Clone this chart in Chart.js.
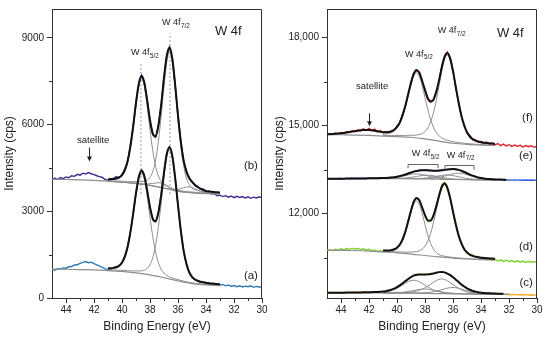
<!DOCTYPE html>
<html><head><meta charset="utf-8">
<script src="https://cdn.jsdelivr.net/npm/chart.js@4.4.0/dist/chart.umd.min.js"></script>
<style>
html,body{margin:0;padding:0;background:#fff;}
#wrap{position:relative;width:550px;height:339px;overflow:hidden;}
canvas{position:absolute;top:0;}
#left{left:0;} #right{left:275px;}
</style></head><body>
<div id="wrap"><canvas id="left" width="275" height="339"></canvas><canvas id="right" width="275" height="339"></canvas></div>
<script>
const N = null;
// ---------- shared axes ----------
const energy = [45.0,44.8,44.6,44.4,44.2,44.0,43.8,43.6,43.4,43.2,43.0,42.8,42.6,42.4,42.2,42.0,41.8,41.6,41.4,41.2,
41.0,40.8,40.6,40.4,40.2,40.0,39.8,39.6,39.4,39.2,39.0,38.8,38.6,38.4,38.2,38.0,37.8,37.6,37.4,37.2,
37.0,36.8,36.6,36.4,36.2,36.0,35.8,35.6,35.4,35.2,35.0,34.8,34.6,34.4,34.2,34.0,33.8,33.6,33.4,33.2,
33.0,32.8,32.6,32.4,32.2,32.0,31.8,31.6,31.4,31.2,31.0,30.8,30.6,30.4,30.2,30.0];
const compEnergy = [41.0,40.8,40.6,40.4,40.2,40.0,39.8,39.6,39.4,39.2,39.0,38.8,38.6,38.4,38.2,38.0,37.8,37.6,37.4,37.2,
37.0,36.8,36.6,36.4,36.2,36.0,35.8,35.6,35.4,35.2,35.0,34.8,34.6,34.4,34.2,34.0,33.8,33.6,33.4,33.2,33.0];
const bgEnergy = [45,44,43,42,41,40,39,38,37,36,35,34,33,32];
const xTicks = [44,42,40,38,36,34,32,30];
const xMinor = [43,41,39,37,35,33,31];
const yTicksLeft = [0,3000,6000,9000];
const yMinorLeft = [1500,4500,7500];
const yTicksRight = [12000,15000,18000];
const yMinorRight = [10500,13500,16500];

// ---------- left panel: (a) ----------
const expA = [990,960,1010,1000,1040,1030,1080,1090,1140,1150,1200,1230,1260,1220,1240,1190,1150,1100,1060,1010,
990,1000,1060,1080,1130,1210,1450,1790,2300,2900,3650,4200,4430,4190,3700,3120,2720,2650,2960,3590,
4330,5010,5200,4880,4160,3200,2360,1630,1200,880,750,620,610,540,560,500,530,470,500,460,
440,470,420,450,400,430,390,420,380,410,390,420,370,400,380,390];
const fitA = [N,N,N,N,N,N,N,N,N,N,N,N,N,N,N,N,N,N,N,N,
1024,1031,1042,1068,1118,1227,1430,1768,2279,2931,3626,4184,4412,4215,3711,3142,2740,2647,2953,3568,
4340,4989,5222,4900,4144,3212,2341,1650,1184,894,731,648,598,565,543,525,512,501,492,484,475,
N,N,N,N,N,N,N,N,N,N,N,N,N,N,N];
const bgA = [1000,995,985,970,950,920,870,800,700,590,500,450,430,N];
const compA1 = [1002,1004,1015,1037,1087,1191,1390,1723,2230,2873,3559,4108,4313,4080,3504,2792,2120,1583,1220,991,
860,782,732,693,664,635,608,586,564,544,524,513,499,489,476,467,463,456,452,448,444];
const compA2 = [972,972,966,964,958,956,951,946,940,939,937,933,942,964,1022,1150,1401,1825,2474,3297,
4180,4885,5146,4841,4092,3167,2303,1615,1153,866,707,624,577,544,526,508,495,487,478,470,461];

// ---------- left panel: (b) ----------
const expB = [4090,4150,4100,4170,4130,4190,4160,4230,4210,4280,4250,4320,4290,4340,4300,4270,4230,4200,4170,4100,
4080,4060,4140,4200,4160,4270,4460,4720,5290,5930,6780,7400,7700,7420,6850,6120,5660,5560,5990,6670,
7640,8370,8680,8240,7380,6290,5440,4740,4400,4130,4040,3890,3870,3760,3770,3680,3640,3600,3610,3540,
3560,3510,3540,3490,3530,3470,3520,3480,3510,3460,3500,3450,3490,3460,3500,3470];
const fitB = [N,N,N,N,N,N,N,N,N,N,N,N,N,N,N,N,N,N,N,N,
4110,4116,4120,4140,4177,4254,4422,4732,5248,5950,6749,7412,7687,7439,6828,6152,5682,5596,5956,6695,
7615,8391,8668,8262,7362,6313,5411,4763,4373,4153,4019,3922,3841,3783,3737,3705,3690,3673,3665,3657,3654,
N,N,N,N,N,N,N,N,N,N,N,N,N,N,N];
const bgB = [4110,4100,4090,4070,4040,4005,3965,3900,3800,3690,3640,3615,3605,N];
const compB1 = [4087,4088,4092,4107,4140,4217,4380,4690,5196,5893,6681,7333,7590,7306,6629,5820,5096,4562,4223,4032,
3928,3866,3822,3789,3759,3730,3715,3696,3685,3674,3666,3657,3648,3643,3635,3630,3628,3626,3620,3618,3616];
const compB2 = [4059,4057,4050,4048,4045,4038,4035,4027,4029,4025,4027,4024,4026,4040,4079,4176,4380,4773,5422,6319,
7334,8177,8506,8133,7246,6189,5260,4579,4155,3924,3806,3749,3716,3696,3682,3667,3661,3649,3647,3640,3638];
const compB3 = [4042,4035,4028,4021,4014,4007,3999,3991,3983,3976,3969,3959,3949,3943,3944,3953,3965,3980,3988,3980,
3948,3897,3840,3787,3743,3707,3687,3673,3660,3651,3642,3637,3632,3627,3622,3617,3615,3613,3611,3609,3607];
const compB4 = [4042,4035,4028,4021,4014,4007,3999,3991,3983,3975,3967,3955,3942,3928,3915,3903,3884,3864,3843,3824,
3805,3785,3768,3755,3750,3757,3783,3816,3841,3848,3825,3784,3735,3692,3658,3636,3625,3618,3614,3611,3608];
const dashE = [38.65, 36.57];
const dashTop = [8150, 9170];
const dashBottom = [3600, 3600];

// ---------- right panel: (f) ----------
const expF = [14690,14730,14700,14750,14720,14770,14740,14800,14770,14830,14800,14860,14820,14890,14840,14910,14830,14880,14790,14830,
14760,14800,14760,14830,14840,14990,15090,15400,15660,16110,16440,16800,16870,16830,16490,16240,15900,15850,15860,16180,
16510,17040,17330,17510,17270,16890,16290,15820,15310,15040,14740,14670,14520,14530,14430,14470,14390,14440,14370,14410,
14340,14390,14320,14370,14310,14350,14290,14340,14300,14330,14270,14320,14280,14310,14260,14300];
const fitF = [14705,14710,14716,14723,14731,14740,14752,14765,14780,14796,14812,14828,14842,14852,14856,14853,14843,14828,14810,14793,
14778,14772,14780,14805,14858,14956,15114,15358,15684,16072,16468,16776,16901,16799,16525,16203,15935,15816,15883,16137,
16539,16991,17357,17481,17296,16859,16319,15789,15342,15004,14773,14630,14543,14492,14458,14436,14420,14409,14397,14389,14378,
N,N,N,N,N,N,N,N,N,N,N,N,N,N,N];
const bgF = [14700,14690,14680,14665,14645,14625,14605,14550,14470,14400,14360,14338,14325,N];
const compF1 = [14705,14714,14730,14760,14815,14911,15072,15310,15630,16012,16399,16696,16803,16674,16355,15953,15551,15211,14953,14772,
14656,14583,14535,14501,14474,14451,14436,14424,14412,14399,14389,14380,14373,14367,14360,14356,14351,14349,14343,14341,14336];
const compF2 = [14669,14665,14664,14663,14662,14664,14663,14665,14667,14669,14674,14674,14681,14697,14731,14800,14918,15123,15432,15851,
16353,16864,17264,17408,17236,16808,16275,15749,15306,14973,14744,14606,14521,14472,14440,14418,14404,14393,14384,14376,14367];

// ---------- right panel: (e) ----------
const expE = [13185,13195,13180,13192,13188,13198,13186,13200,13190,13203,13193,13205,13195,13208,13198,13210,13202,13212,13205,13214,
13212,13220,13218,13235,13238,13262,13275,13308,13328,13372,13396,13437,13452,13478,13476,13486,13472,13474,13459,13466,
13462,13481,13488,13510,13512,13522,13506,13495,13456,13424,13373,13336,13290,13264,13228,13215,13190,13187,13172,13174,
13162,13160,13152,13156,13146,13151,13143,13148,13140,13146,13138,13145,13139,13144,13137,13142];
const fitE = [13186,13187,13188,13189,13190,13191,13192,13193,13194,13195,13196,13197,13198,13199,13201,13203,13205,13207,13209,13211,
13214,13217,13222,13231,13241,13257,13279,13303,13332,13367,13400,13432,13456,13473,13480,13481,13476,13469,13463,13462,
13466,13477,13492,13506,13516,13518,13510,13491,13460,13420,13377,13332,13294,13260,13232,13211,13194,13184,13176,13171,13167,
13164,13161,13158,13156,N,N,N,N,N,N,N,N,N,N,N];
const bgE = [13185,13188,13190,13193,13195,13193,13188,13182,13172,13163,13157,13152,13149,13147];
const compE1 = [13205,13208,13212,13219,13228,13241,13257,13276,13297,13319,13338,13352,13356,13349,13333,13312,13287,13263,13241,13222,
13207,13195,13186,13180,13175,13171,13168,13166,13165,13162,13161,13159,13158,13157,13156,13154,13153,13153,13152,13152,13151];
const compE2 = [13197,13197,13196,13197,13196,13196,13196,13195,13195,13195,13195,13196,13197,13200,13205,13212,13222,13235,13251,13269,
13287,13303,13314,13317,13311,13296,13277,13256,13235,13215,13199,13186,13177,13170,13164,13161,13158,13157,13155,13154,13153];
const compE3 = [13199,13199,13199,13200,13200,13203,13206,13210,13216,13226,13238,13252,13268,13284,13298,13308,13310,13304,13291,13274,
13254,13235,13218,13204,13191,13182,13176,13171,13167,13164,13162,13160,13159,13157,13156,13155,13153,13153,13152,13152,13151];
const compE4 = [13198,13198,13197,13197,13196,13196,13196,13195,13194,13194,13193,13193,13193,13192,13193,13195,13197,13201,13208,13219,
13234,13254,13278,13306,13334,13358,13375,13381,13373,13353,13326,13295,13265,13238,13215,13197,13183,13174,13167,13163,13159];

// ---------- right panel: (d) ----------
const expD = [10740,10770,10730,10780,10750,10800,10760,10810,10780,10820,10790,10810,10770,10800,10750,10780,10730,10760,10710,10730,
10700,10720,10730,10780,10770,10860,10930,11160,11370,11780,12080,12450,12510,12480,12170,11980,11720,11800,11890,12290,
12570,12960,13070,12830,12560,12030,11680,11220,11020,10760,10700,10580,10590,10500,10540,10460,10500,10430,10470,10410,
10440,10380,10420,10370,10410,10360,10400,10350,10390,10340,10380,10330,10370,10340,10360,10330];
const fitD = [N,N,N,N,N,N,N,N,N,N,N,N,N,N,N,N,N,N,N,N,
10737,10737,10743,10754,10782,10838,10945,11123,11392,11735,12105,12407,12534,12446,12206,11940,11769,11758,11929,12240,
12608,12916,13024,12876,12519,12071,11630,11260,10981,10791,10671,10600,10557,10531,10510,10496,10487,10478,10471,10464,10459,
N,N,N,N,N,N,N,N,N,N,N,N,N,N,N];
const bgD = [10750,10745,10740,10720,10690,10660,10620,10570,10520,10480,10450,10430,10420,N];
const compD1 = [10717,10715,10718,10727,10750,10803,10905,11078,11342,11678,12038,12325,12430,12305,11998,11620,11266,10984,10793,10673,
10604,10567,10544,10527,10515,10504,10494,10486,10478,10471,10463,10459,10453,10449,10443,10439,10437,10433,10431,10429,10427];
const compD2 = [10710,10706,10703,10699,10698,10695,10692,10689,10686,10685,10687,10692,10704,10731,10788,10890,11063,11324,11676,12097,
12524,12861,12984,12845,12492,12047,11610,11242,10965,10776,10658,10587,10546,10520,10501,10487,10478,10471,10464,10457,10452];

// ---------- right panel: (c) ----------
const expC = [9295,9305,9298,9308,9300,9306,9299,9310,9303,9312,9305,9316,9309,9318,9310,9322,9318,9330,9322,9336,
9335,9358,9370,9405,9434,9495,9546,9625,9690,9775,9830,9887,9905,9926,9918,9925,9922,9940,9952,9986,
9998,10012,9988,9958,9893,9830,9741,9668,9578,9516,9448,9406,9360,9340,9312,9305,9288,9285,9276,9278,
9266,9262,9250,9256,9240,9248,9232,9242,9228,9238,9222,9234,9220,9230,9218,9226];
const fitC = [9300,9300,9301,9301,9302,9302,9303,9304,9305,9306,9307,9308,9310,9312,9314,9317,9320,9324,9328,9333,
9340,9353,9374,9401,9439,9491,9551,9620,9696,9770,9835,9882,9911,9921,9922,9921,9926,9937,9956,9981,
10003,10008,9993,9954,9898,9826,9746,9663,9583,9512,9452,9402,9364,9337,9316,9302,9290,9283,9279,9275,9271,
9268,9265,9262,N,N,N,N,N,N,N,N,N,N,N,N];
const bgC = [9300,9298,9296,9293,9290,9287,9283,9277,9270,9263,9257,9252,9248,9245];
const compC1 = [9324,9335,9354,9378,9413,9457,9509,9566,9626,9678,9715,9727,9713,9674,9619,9558,9499,9444,9398,9361,
9335,9315,9301,9291,9284,9279,9276,9273,9270,9268,9266,9264,9262,9261,9259,9258,9256,9255,9255,9254,9252];
const compC2 = [9298,9298,9299,9299,9300,9301,9302,9304,9308,9313,9321,9334,9354,9382,9419,9468,9526,9590,9656,9714,
9755,9769,9752,9709,9647,9579,9512,9452,9400,9360,9330,9308,9293,9283,9276,9271,9267,9264,9262,9260,9258];
const compC3 = [9295,9295,9296,9297,9299,9303,9308,9315,9327,9341,9358,9377,9396,9413,9424,9427,9422,9407,9388,9366,
9345,9326,9309,9296,9286,9279,9273,9270,9266,9264,9262,9260,9259,9257,9256,9255,9253,9252,9252,9251,9250];
const compC4 = [9293,9292,9292,9291,9291,9291,9290,9290,9290,9290,9290,9290,9291,9292,9294,9299,9307,9318,9333,9353,
9378,9405,9432,9456,9473,9478,9471,9451,9424,9394,9365,9338,9315,9298,9284,9274,9267,9262,9260,9257,9255];

// ---------- helpers ----------
const FONT = '"Liberation Sans", Arial, Helvetica, sans-serif';
const GRAY = '#8e8e8e';
function pts(xs, ys){ const out=[]; for(let i=0;i<xs.length;i++){ if(ys[i]!==null) out.push({x:xs[i], y:ys[i]}); } return out; }
function ds(xs, ys, color, width, order, smooth, dash){
  return {data: pts(xs, ys), borderColor: color, borderWidth: width, order: order,
    tension: 0, cubicInterpolationMode: smooth ? 'monotone' : 'default',
    borderDash: dash || [], pointRadius: 0, fill: false, spanGaps: false};
}
const expD_ = (ys,c)=>ds(energy, ys, c, 1.4, 5, false);
const fitD_ = ys=>ds(energy, ys, '#111111', 2, 1, true);
const bgD_ = ys=>ds(bgEnergy, ys, GRAY, 1.2, 4, true);
const cmpD_ = ys=>ds(compEnergy, ys, GRAY, 1, 3, true);

const decor = {
  id: 'decor',
  afterDraw(chart, args, o){
    const ctx = chart.ctx, a = chart.chartArea, xs = chart.scales.x, ys = chart.scales.y;
    ctx.save();
    ctx.strokeStyle = '#333'; ctx.lineWidth = 1;
    ctx.beginPath();
    ctx.moveTo(a.left, a.top + 0.5); ctx.lineTo(a.right - 0.5, a.top + 0.5); ctx.lineTo(a.right - 0.5, a.bottom);
    ctx.stroke();
    ctx.beginPath();
    o.xMinor.forEach(v=>{ const px = Math.round(xs.getPixelForValue(v)) + 0.5; ctx.moveTo(px, a.bottom); ctx.lineTo(px, a.bottom + 3); });
    o.yMinor.forEach(v=>{ const py = Math.round(ys.getPixelForValue(v)) + 0.5; ctx.moveTo(a.left, py); ctx.lineTo(a.left - 3, py); });
    ctx.stroke();
    // brackets
    ctx.strokeStyle = '#666';
    (o.brackets||[]).forEach(b=>{
      const x1 = xs.getPixelForValue(b.x1), x2 = xs.getPixelForValue(b.x2);
      const yt = Math.round(ys.getPixelForValue(b.yTop)) + 0.5, yb = ys.getPixelForValue(b.yBot);
      ctx.beginPath(); ctx.moveTo(x1, yb); ctx.lineTo(x1, yt); ctx.lineTo(x2, yt); ctx.lineTo(x2, yb); ctx.stroke();
    });
    // arrows
    ctx.strokeStyle = '#222'; ctx.fillStyle = '#222';
    (o.arrows||[]).forEach(ar=>{
      const x = Math.round(xs.getPixelForValue(ar.x)) + 0.5, y1 = ys.getPixelForValue(ar.y1), y2 = ys.getPixelForValue(ar.y2);
      ctx.beginPath(); ctx.moveTo(x, y1); ctx.lineTo(x, y2 - 3); ctx.stroke();
      ctx.beginPath(); ctx.moveTo(x - 2.5, y2 - 5); ctx.lineTo(x + 2.5, y2 - 5); ctx.lineTo(x, y2); ctx.closePath(); ctx.fill();
    });
    // labels
    ctx.fillStyle = '#222'; ctx.textBaseline = 'middle';
    o.labels.forEach(l=>{
      const px = xs.getPixelForValue(l.x), py = ys.getPixelForValue(l.y);
      ctx.font = l.size + 'px ' + FONT;
      ctx.textAlign = l.align || 'left';
      ctx.fillText(l.text, px, py);
      if (l.sub){
        const w = ctx.measureText(l.text).width;
        ctx.font = (l.size * 0.7) + 'px ' + FONT;
        ctx.textAlign = 'left';
        ctx.fillText(l.sub, px + w + 0.5, py + l.size * 0.35);
      }
    });
    ctx.restore();
  }
};

function options(cfg){
  return {
    responsive: false, animation: false, devicePixelRatio: 1, events: [],
    layout: {padding: {top: 7, right: 13, left: 0, bottom: 0}},
    elements: {point: {radius: 0, hoverRadius: 0}},
    plugins: {legend: {display: false}, tooltip: {enabled: false}, decor: cfg.decor},
    scales: {
      x: {type: 'linear', reverse: true, min: 30, max: 45,
        afterBuildTicks: s => { s.ticks = xTicks.map(v => ({value: v})); },
        afterFit: s => { s.height = 41; },
        grid: {drawOnChartArea: false, tickLength: 5, tickColor: '#333', tickWidth: 1},
        border: {color: '#333', width: 1},
        ticks: {font: {family: FONT, size: 10}, color: '#222', padding: 1, maxRotation: 0, autoSkip: false},
        title: {display: true, text: 'Binding Energy (eV)', font: {family: FONT, size: 12}, color: '#222', padding: {top: 0, bottom: 5}}},
      y: {type: 'linear', min: cfg.ymin, max: cfg.ymax,
        afterBuildTicks: s => { s.ticks = cfg.yTicks.map(v => ({value: v})); },
        afterFit: s => { s.width = 52; },
        grid: {drawOnChartArea: false, tickLength: 5, tickColor: '#333', tickWidth: 1},
        border: {color: '#333', width: 1},
        ticks: {font: {family: FONT, size: 10}, color: '#222', padding: 3, autoSkip: false, callback: cfg.fmt},
        title: {display: true, text: 'Intensity (cps)', font: {family: FONT, size: 12}, color: '#222', padding: {top: cfg.titlePad, bottom: 0}}}
    }
  };
}

// ---------- left chart ----------
new Chart(document.getElementById('left'), {
  type: 'line',
  data: {datasets: [
    ds([dashE[0], dashE[0]], [dashBottom[0], dashTop[0]], '#9a9a9a', 1, 6, false, [2, 2]),
    ds([dashE[1], dashE[1]], [dashBottom[1], dashTop[1]], '#9a9a9a', 1, 6, false, [2, 2]),
    expD_(expB, '#45268f'), expD_(expA, '#2c7bb8'),
    bgD_(bgB), bgD_(bgA),
    cmpD_(compB1), cmpD_(compB2), cmpD_(compB3), cmpD_(compB4),
    cmpD_(compA1), cmpD_(compA2),
    fitD_(fitB), fitD_(fitA)
  ]},
  options: options({ymin: 0, ymax: 10000, yTicks: yTicksLeft, fmt: v => String(v), titlePad: 2,
    decor: {xMinor: xMinor, yMinor: yMinorLeft,
      labels: [
        {text: 'W 4f', sub: '7/2', x: 37.14, y: 9517, size: 9},
        {text: 'W 4f', sub: '5/2', x: 39.36, y: 8483, size: 9},
        {text: 'W 4f', x: 33.36, y: 9241, size: 13},
        {text: 'satellite', x: 43.21, y: 5448, size: 9.5},
        {text: '(b)', x: 30.29, y: 4586, size: 11.5, align: 'right'},
        {text: '(a)', x: 30.29, y: 759, size: 11.5, align: 'right'}
      ],
      arrows: [{x: 42.36, y1: 5207, y2: 4724}]
    }}),
  plugins: [decor]
});

// ---------- right chart ----------
new Chart(document.getElementById('right'), {
  type: 'line',
  data: {datasets: [
    expD_(expF, '#e4262c'), expD_(expE, '#2f5fe0'), expD_(expD, '#7bd12a'), expD_(expC, '#f0ad1e'),
    bgD_(bgF), bgD_(bgE), bgD_(bgD), bgD_(bgC),
    cmpD_(compF1), cmpD_(compF2),
    cmpD_(compE1), cmpD_(compE2), cmpD_(compE3), cmpD_(compE4),
    cmpD_(compD1), cmpD_(compD2),
    cmpD_(compC1), cmpD_(compC2), cmpD_(compC3), cmpD_(compC4),
    fitD_(fitF), fitD_(fitE), fitD_(fitD), fitD_(fitC)
  ]},
  options: options({ymin: 9120, ymax: 18980, yTicks: yTicksRight, fmt: v => v.toLocaleString('en-US'), titlePad: -3,
    decor: {xMinor: xMinor, yMinor: yMinorRight,
      labels: [
        {text: 'W 4f', sub: '7/2', x: 37.09, y: 18237, size: 9},
        {text: 'W 4f', sub: '5/2', x: 39.43, y: 17424, size: 9},
        {text: 'W 4f', x: 32.86, y: 18136, size: 13},
        {text: 'satellite', x: 42.93, y: 16339, size: 9.5},
        {text: '(f)', x: 30.29, y: 15254, size: 11.5, align: 'right'},
        {text: '(e)', x: 30.29, y: 13966, size: 11.5, align: 'right'},
        {text: '(d)', x: 30.29, y: 10858, size: 11.5, align: 'right'},
        {text: '(c)', x: 30.29, y: 9637, size: 11.5, align: 'right'},
        {text: 'W 4f', sub: '5/2', x: 38.95, y: 14044, size: 9},
        {text: 'W 4f', sub: '7/2', x: 36.45, y: 13990, size: 9}
      ],
      arrows: [{x: 42.0, y1: 15424, y2: 14983}],
      brackets: [{x1: 39.21, x2: 37.07, yTop: 13705, yBot: 13549}, {x1: 36.57, x2: 34.5, yTop: 13651, yBot: 13492}]
    }}),
  plugins: [decor]
});
</script>
</body></html>
